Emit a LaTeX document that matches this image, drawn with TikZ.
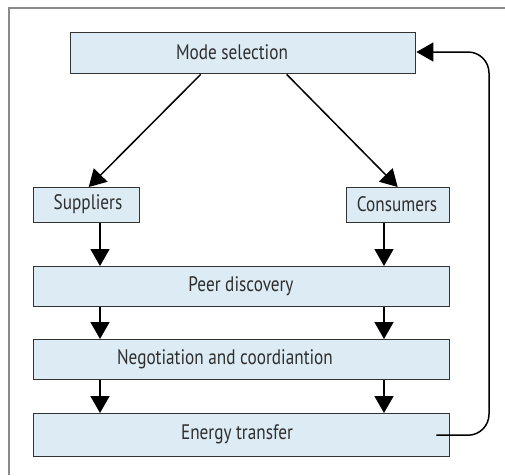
\documentclass[tikz,border=0pt]{standalone}
\usepackage{fontspec}
\setmainfont{PT Sans}[FakeStretch=0.82]
\usetikzlibrary{arrows.meta}
\definecolor{boxfill}{HTML}{DDECF4}
\definecolor{boxline}{HTML}{333333}
\definecolor{framegray}{HTML}{8A8A8A}
\begin{document}
\begin{tikzpicture}[x=1pt,y=-1pt,
  stepbox/.style={draw=boxline,line width=1.4pt,fill=boxfill,inner sep=0pt,anchor=north west},
  lbl/.style={font=\fontsize{21}{24}\selectfont,text=black!82,inner sep=0pt},
  arr/.style={line width=1.5pt,-{Triangle[length=17pt,width=19pt]}},
]
\useasboundingbox (0,0) rectangle (505,475);
% outer frame (top and left edges only)
\draw[framegray,line width=2pt] (9,475) -- (9,8) -- (505,8);

% process boxes
\node[stepbox,minimum width=345pt,minimum height=41pt] (mode) at (70,32) {};
\node[stepbox,minimum width=106pt,minimum height=35pt] (sup) at (33,187) {};
\node[stepbox,minimum width=103pt,minimum height=35pt] (con) at (346,187) {};
\node[stepbox,minimum width=416pt,minimum height=40pt] (peer) at (33,266) {};
\node[stepbox,minimum width=416pt,minimum height=40pt] (neg) at (33,339) {};
\node[stepbox,minimum width=416pt,minimum height=43pt] (energy) at (33,413) {};

% labels
\node[lbl] (tmode) at (232,52) {Mode selection};
\node[lbl] (tsup) at (88,204) {Suppliers};
\node[lbl] (tcon) at (397,204) {Consumers};
\node[lbl] (tpeer) at (241,286) {Peer discovery};
\node[lbl] (tneg) at (225,359) {Negotiation and coordiantion};
\node[lbl] (tenergy) at (237,434) {Energy transfer};

% flow arrows
\draw[arr] ([xshift=-42.5pt]mode.south) -- ([xshift=2pt]sup.north);
\draw[arr] ([xshift=43.5pt]mode.south) -- ([xshift=-0.5pt]con.north);
\draw[arr] (100,0 |- sup.south) -- (100,0 |- peer.north);
\draw[arr] (384,0 |- con.south) -- (384,0 |- peer.north);
\draw[arr] (100,0 |- peer.south) -- (100,0 |- neg.north);
\draw[arr] (384,0 |- peer.south) -- (384,0 |- neg.north);
\draw[arr] (100,0 |- neg.south) -- (100,0 |- energy.north);
\draw[arr] (384,0 |- neg.south) -- (384,0 |- energy.north);

% feedback loop
\coordinate (fbstart) at ([xshift=-14pt]energy.east);
\coordinate (fbend) at (mode.east |- 0,52);
\draw[arr,rounded corners=21pt] (fbstart) -- (489,0 |- fbstart) -- (489,52) -- (fbend);
\end{tikzpicture}
\end{document}
